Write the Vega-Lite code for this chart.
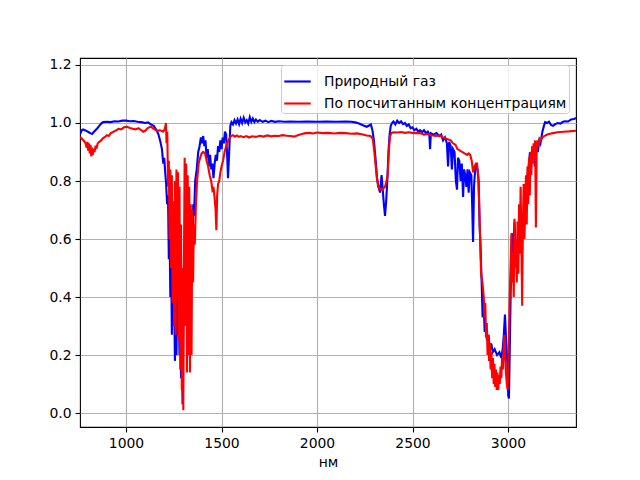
{
  "$schema": "https://vega.github.io/schema/vega-lite/v6.json",
  "width": 496,
  "height": 369,
  "autosize": {"type": "none"},
  "padding": {"left": 80, "top": 58, "right": 64, "bottom": 53},
  "background": "white",
  "config": {
    "font": "DejaVu Sans",
    "view": {"stroke": "black", "strokeWidth": 1.1},
    "axis": {
      "domain": false,
      "grid": true,
      "gridColor": "#b0b0b0",
      "gridWidth": 1.1,
      "tickColor": "black",
      "tickWidth": 1.1,
      "tickSize": 5,
      "labelFontSize": 13.9,
      "labelColor": "black",
      "labelPadding": 4,
      "titleFontSize": 13.9,
      "titleFontWeight": "normal",
      "titleColor": "black"
    },
    "legend": {
      "orient": "top-right",
      "offset": 7,
      "fillColor": "rgba(255,255,255,0.8)",
      "strokeColor": "#cccccc",
      "cornerRadius": 3,
      "padding": 2,
      "labelFontSize": 13.9,
      "labelColor": "black",
      "labelLimit": 400,
      "labelOffset": 12,
      "symbolType": "stroke",
      "symbolSize": 700,
      "symbolStrokeWidth": 2.1,
      "rowPadding": -9
    }
  },
  "datasets": {
    "blue": [
      {"x": 760, "y": 0.962}, {"x": 768, "y": 0.975}, {"x": 775, "y": 0.978}, {"x": 785, "y": 0.975},
      {"x": 795, "y": 0.972}, {"x": 805, "y": 0.968}, {"x": 815, "y": 0.964}, {"x": 822, "y": 0.962},
      {"x": 830, "y": 0.968}, {"x": 840, "y": 0.975}, {"x": 850, "y": 0.982}, {"x": 860, "y": 0.99},
      {"x": 870, "y": 0.998}, {"x": 880, "y": 1.003}, {"x": 900, "y": 1.004}, {"x": 920, "y": 1.003},
      {"x": 940, "y": 1.006}, {"x": 960, "y": 1.005}, {"x": 980, "y": 1.008}, {"x": 1000, "y": 1.008},
      {"x": 1020, "y": 1.006}, {"x": 1040, "y": 1.007}, {"x": 1060, "y": 1.004}, {"x": 1080, "y": 1.003},
      {"x": 1100, "y": 1.0}, {"x": 1115, "y": 1.002}, {"x": 1130, "y": 0.995}, {"x": 1145, "y": 0.99},
      {"x": 1160, "y": 0.975}, {"x": 1170, "y": 0.96}, {"x": 1180, "y": 0.935}, {"x": 1188, "y": 0.91},
      {"x": 1195, "y": 0.86}, {"x": 1200, "y": 0.88}, {"x": 1205, "y": 0.83}, {"x": 1210, "y": 0.79},
      {"x": 1215, "y": 0.72}, {"x": 1220, "y": 0.75}, {"x": 1224, "y": 0.53}, {"x": 1228, "y": 0.62},
      {"x": 1232, "y": 0.4}, {"x": 1236, "y": 0.55}, {"x": 1240, "y": 0.27}, {"x": 1244, "y": 0.48},
      {"x": 1248, "y": 0.3}, {"x": 1252, "y": 0.4}, {"x": 1256, "y": 0.18}, {"x": 1260, "y": 0.33},
      {"x": 1264, "y": 0.2}, {"x": 1268, "y": 0.44}, {"x": 1272, "y": 0.27}, {"x": 1276, "y": 0.38},
      {"x": 1280, "y": 0.2}, {"x": 1284, "y": 0.36}, {"x": 1288, "y": 0.12}, {"x": 1292, "y": 0.25},
      {"x": 1296, "y": 0.03}, {"x": 1300, "y": 0.3}, {"x": 1304, "y": 0.55}, {"x": 1308, "y": 0.45},
      {"x": 1312, "y": 0.7}, {"x": 1316, "y": 0.48}, {"x": 1320, "y": 0.62}, {"x": 1324, "y": 0.32},
      {"x": 1328, "y": 0.55}, {"x": 1332, "y": 0.28}, {"x": 1336, "y": 0.5}, {"x": 1340, "y": 0.4},
      {"x": 1344, "y": 0.65}, {"x": 1348, "y": 0.55}, {"x": 1352, "y": 0.72}, {"x": 1356, "y": 0.68},
      {"x": 1362, "y": 0.8}, {"x": 1370, "y": 0.84}, {"x": 1378, "y": 0.9}, {"x": 1385, "y": 0.92},
      {"x": 1392, "y": 0.95}, {"x": 1398, "y": 0.93}, {"x": 1404, "y": 0.955}, {"x": 1410, "y": 0.92},
      {"x": 1416, "y": 0.94}, {"x": 1422, "y": 0.88}, {"x": 1428, "y": 0.91}, {"x": 1434, "y": 0.85},
      {"x": 1440, "y": 0.89}, {"x": 1446, "y": 0.84}, {"x": 1452, "y": 0.86}, {"x": 1458, "y": 0.81},
      {"x": 1464, "y": 0.86}, {"x": 1470, "y": 0.89}, {"x": 1476, "y": 0.87}, {"x": 1482, "y": 0.92},
      {"x": 1488, "y": 0.9}, {"x": 1494, "y": 0.94}, {"x": 1500, "y": 0.91}, {"x": 1506, "y": 0.95},
      {"x": 1512, "y": 0.93}, {"x": 1518, "y": 0.97}, {"x": 1524, "y": 0.96}, {"x": 1530, "y": 0.88},
      {"x": 1534, "y": 0.81}, {"x": 1540, "y": 0.9}, {"x": 1546, "y": 0.99}, {"x": 1552, "y": 1.003},
      {"x": 1560, "y": 0.995}, {"x": 1568, "y": 1.01}, {"x": 1576, "y": 0.998}, {"x": 1584, "y": 1.012},
      {"x": 1592, "y": 0.996}, {"x": 1600, "y": 1.015}, {"x": 1608, "y": 1.0}, {"x": 1616, "y": 1.018},
      {"x": 1624, "y": 1.002}, {"x": 1632, "y": 1.01}, {"x": 1640, "y": 0.998}, {"x": 1648, "y": 1.02},
      {"x": 1656, "y": 1.004}, {"x": 1664, "y": 1.015}, {"x": 1672, "y": 1.003}, {"x": 1680, "y": 1.012},
      {"x": 1690, "y": 1.004}, {"x": 1700, "y": 1.01}, {"x": 1715, "y": 1.004}, {"x": 1730, "y": 1.008},
      {"x": 1745, "y": 1.003}, {"x": 1760, "y": 1.007}, {"x": 1780, "y": 1.004}, {"x": 1800, "y": 1.006},
      {"x": 1830, "y": 1.004}, {"x": 1860, "y": 1.005}, {"x": 1900, "y": 1.004}, {"x": 1950, "y": 1.005},
      {"x": 2000, "y": 1.004}, {"x": 2050, "y": 1.005}, {"x": 2100, "y": 1.004}, {"x": 2150, "y": 1.005},
      {"x": 2180, "y": 1.004}, {"x": 2200, "y": 1.002}, {"x": 2220, "y": 0.998}, {"x": 2240, "y": 0.992},
      {"x": 2260, "y": 0.987}, {"x": 2275, "y": 0.992}, {"x": 2282, "y": 0.995}, {"x": 2290, "y": 0.975},
      {"x": 2298, "y": 0.94}, {"x": 2306, "y": 0.88}, {"x": 2314, "y": 0.81}, {"x": 2322, "y": 0.78},
      {"x": 2330, "y": 0.76}, {"x": 2338, "y": 0.82}, {"x": 2344, "y": 0.77}, {"x": 2350, "y": 0.72},
      {"x": 2356, "y": 0.68}, {"x": 2362, "y": 0.73}, {"x": 2368, "y": 0.8}, {"x": 2374, "y": 0.9},
      {"x": 2380, "y": 0.96}, {"x": 2386, "y": 0.99}, {"x": 2393, "y": 1.0}, {"x": 2400, "y": 1.005},
      {"x": 2410, "y": 0.995}, {"x": 2420, "y": 1.008}, {"x": 2430, "y": 1.0}, {"x": 2440, "y": 1.006},
      {"x": 2450, "y": 0.996}, {"x": 2460, "y": 1.0}, {"x": 2470, "y": 0.99}, {"x": 2480, "y": 0.995},
      {"x": 2490, "y": 0.982}, {"x": 2500, "y": 0.985}, {"x": 2510, "y": 0.975}, {"x": 2520, "y": 0.98},
      {"x": 2530, "y": 0.97}, {"x": 2540, "y": 0.975}, {"x": 2550, "y": 0.968}, {"x": 2560, "y": 0.975},
      {"x": 2570, "y": 0.965}, {"x": 2580, "y": 0.97}, {"x": 2588, "y": 0.96}, {"x": 2592, "y": 0.91},
      {"x": 2596, "y": 0.965}, {"x": 2610, "y": 0.96}, {"x": 2625, "y": 0.965}, {"x": 2640, "y": 0.955},
      {"x": 2650, "y": 0.96}, {"x": 2660, "y": 0.94}, {"x": 2670, "y": 0.95}, {"x": 2680, "y": 0.93},
      {"x": 2686, "y": 0.85}, {"x": 2692, "y": 0.935}, {"x": 2700, "y": 0.92}, {"x": 2706, "y": 0.84},
      {"x": 2712, "y": 0.91}, {"x": 2720, "y": 0.9}, {"x": 2727, "y": 0.8}, {"x": 2733, "y": 0.77},
      {"x": 2738, "y": 0.88}, {"x": 2745, "y": 0.87}, {"x": 2752, "y": 0.8}, {"x": 2758, "y": 0.86},
      {"x": 2765, "y": 0.745}, {"x": 2770, "y": 0.84}, {"x": 2776, "y": 0.82}, {"x": 2782, "y": 0.78},
      {"x": 2788, "y": 0.84}, {"x": 2794, "y": 0.76}, {"x": 2800, "y": 0.83}, {"x": 2808, "y": 0.82},
      {"x": 2813, "y": 0.7}, {"x": 2817, "y": 0.59}, {"x": 2822, "y": 0.78}, {"x": 2828, "y": 0.84},
      {"x": 2833, "y": 0.85}, {"x": 2840, "y": 0.84}, {"x": 2846, "y": 0.8}, {"x": 2851, "y": 0.65},
      {"x": 2856, "y": 0.58}, {"x": 2862, "y": 0.45}, {"x": 2867, "y": 0.33}, {"x": 2872, "y": 0.38},
      {"x": 2878, "y": 0.28}, {"x": 2885, "y": 0.3}, {"x": 2890, "y": 0.25}, {"x": 2898, "y": 0.27},
      {"x": 2905, "y": 0.22}, {"x": 2912, "y": 0.24}, {"x": 2920, "y": 0.21}, {"x": 2930, "y": 0.22},
      {"x": 2943, "y": 0.2}, {"x": 2955, "y": 0.21}, {"x": 2965, "y": 0.19}, {"x": 2972, "y": 0.22},
      {"x": 2978, "y": 0.27}, {"x": 2984, "y": 0.34}, {"x": 2990, "y": 0.25}, {"x": 2996, "y": 0.18},
      {"x": 3001, "y": 0.06}, {"x": 3005, "y": 0.05}, {"x": 3010, "y": 0.25}, {"x": 3016, "y": 0.5},
      {"x": 3021, "y": 0.62}, {"x": 3028, "y": 0.55}, {"x": 3034, "y": 0.66}, {"x": 3040, "y": 0.58},
      {"x": 3046, "y": 0.5}, {"x": 3052, "y": 0.6}, {"x": 3058, "y": 0.55}, {"x": 3064, "y": 0.66},
      {"x": 3070, "y": 0.6}, {"x": 3079, "y": 0.65}, {"x": 3086, "y": 0.72}, {"x": 3093, "y": 0.78},
      {"x": 3100, "y": 0.8}, {"x": 3108, "y": 0.85}, {"x": 3115, "y": 0.9}, {"x": 3122, "y": 0.86},
      {"x": 3130, "y": 0.9}, {"x": 3136, "y": 0.88}, {"x": 3141, "y": 0.85}, {"x": 3148, "y": 0.92},
      {"x": 3156, "y": 0.9}, {"x": 3164, "y": 0.94}, {"x": 3170, "y": 0.93}, {"x": 3180, "y": 0.97},
      {"x": 3188, "y": 0.99}, {"x": 3194, "y": 1.003}, {"x": 3205, "y": 1.0}, {"x": 3215, "y": 1.004},
      {"x": 3225, "y": 0.993}, {"x": 3236, "y": 0.99}, {"x": 3248, "y": 0.996}, {"x": 3260, "y": 1.0},
      {"x": 3275, "y": 0.998}, {"x": 3288, "y": 1.004}, {"x": 3300, "y": 1.006}, {"x": 3315, "y": 1.005},
      {"x": 3330, "y": 1.012}, {"x": 3345, "y": 1.014}, {"x": 3356, "y": 1.017}
    ],
    "red": [
      {"x": 760, "y": 0.952}, {"x": 770, "y": 0.945}, {"x": 780, "y": 0.938}, {"x": 788, "y": 0.93},
      {"x": 794, "y": 0.915}, {"x": 798, "y": 0.935}, {"x": 802, "y": 0.905}, {"x": 806, "y": 0.93},
      {"x": 810, "y": 0.895}, {"x": 814, "y": 0.925}, {"x": 818, "y": 0.885}, {"x": 822, "y": 0.915},
      {"x": 826, "y": 0.89}, {"x": 830, "y": 0.912}, {"x": 835, "y": 0.9}, {"x": 840, "y": 0.918},
      {"x": 846, "y": 0.915}, {"x": 852, "y": 0.93}, {"x": 860, "y": 0.935}, {"x": 870, "y": 0.94},
      {"x": 880, "y": 0.948}, {"x": 890, "y": 0.952}, {"x": 900, "y": 0.958}, {"x": 910, "y": 0.955},
      {"x": 920, "y": 0.965}, {"x": 930, "y": 0.968}, {"x": 940, "y": 0.972}, {"x": 950, "y": 0.975},
      {"x": 960, "y": 0.98}, {"x": 975, "y": 0.978}, {"x": 990, "y": 0.985}, {"x": 1005, "y": 0.987},
      {"x": 1020, "y": 0.983}, {"x": 1035, "y": 0.98}, {"x": 1050, "y": 0.978}, {"x": 1065, "y": 0.982},
      {"x": 1080, "y": 0.975}, {"x": 1090, "y": 0.97}, {"x": 1100, "y": 0.973}, {"x": 1110, "y": 0.98},
      {"x": 1120, "y": 0.985}, {"x": 1130, "y": 0.987}, {"x": 1140, "y": 0.982}, {"x": 1150, "y": 0.978},
      {"x": 1162, "y": 0.972}, {"x": 1175, "y": 0.975}, {"x": 1185, "y": 0.973}, {"x": 1194, "y": 0.97},
      {"x": 1200, "y": 0.975}, {"x": 1205, "y": 0.985}, {"x": 1209, "y": 1.0}, {"x": 1212, "y": 0.93},
      {"x": 1216, "y": 0.97}, {"x": 1220, "y": 0.78}, {"x": 1224, "y": 0.87}, {"x": 1228, "y": 0.6},
      {"x": 1232, "y": 0.84}, {"x": 1236, "y": 0.5}, {"x": 1240, "y": 0.82}, {"x": 1244, "y": 0.38},
      {"x": 1248, "y": 0.73}, {"x": 1252, "y": 0.3}, {"x": 1256, "y": 0.8}, {"x": 1260, "y": 0.27},
      {"x": 1264, "y": 0.84}, {"x": 1268, "y": 0.4}, {"x": 1272, "y": 0.83}, {"x": 1276, "y": 0.25},
      {"x": 1280, "y": 0.78}, {"x": 1284, "y": 0.15}, {"x": 1288, "y": 0.65}, {"x": 1292, "y": 0.08},
      {"x": 1296, "y": 0.5}, {"x": 1300, "y": 0.01}, {"x": 1304, "y": 0.6}, {"x": 1307, "y": 0.88},
      {"x": 1311, "y": 0.3}, {"x": 1315, "y": 0.86}, {"x": 1319, "y": 0.14}, {"x": 1323, "y": 0.82},
      {"x": 1327, "y": 0.2}, {"x": 1331, "y": 0.78}, {"x": 1335, "y": 0.14}, {"x": 1339, "y": 0.72},
      {"x": 1343, "y": 0.2}, {"x": 1347, "y": 0.7}, {"x": 1351, "y": 0.45}, {"x": 1355, "y": 0.65},
      {"x": 1360, "y": 0.58}, {"x": 1366, "y": 0.72}, {"x": 1372, "y": 0.8}, {"x": 1380, "y": 0.86},
      {"x": 1388, "y": 0.88}, {"x": 1396, "y": 0.895}, {"x": 1404, "y": 0.9}, {"x": 1414, "y": 0.895},
      {"x": 1422, "y": 0.87}, {"x": 1430, "y": 0.85}, {"x": 1438, "y": 0.82}, {"x": 1446, "y": 0.8},
      {"x": 1452, "y": 0.77}, {"x": 1458, "y": 0.78}, {"x": 1464, "y": 0.74}, {"x": 1469, "y": 0.7},
      {"x": 1473, "y": 0.63}, {"x": 1477, "y": 0.75}, {"x": 1482, "y": 0.79}, {"x": 1488, "y": 0.8},
      {"x": 1494, "y": 0.83}, {"x": 1500, "y": 0.85}, {"x": 1508, "y": 0.87}, {"x": 1516, "y": 0.9},
      {"x": 1524, "y": 0.92}, {"x": 1532, "y": 0.935}, {"x": 1540, "y": 0.945}, {"x": 1550, "y": 0.955},
      {"x": 1560, "y": 0.958}, {"x": 1570, "y": 0.953}, {"x": 1580, "y": 0.957}, {"x": 1590, "y": 0.952},
      {"x": 1600, "y": 0.955}, {"x": 1615, "y": 0.951}, {"x": 1630, "y": 0.955}, {"x": 1645, "y": 0.95},
      {"x": 1660, "y": 0.954}, {"x": 1680, "y": 0.952}, {"x": 1700, "y": 0.956}, {"x": 1720, "y": 0.953},
      {"x": 1740, "y": 0.957}, {"x": 1760, "y": 0.954}, {"x": 1780, "y": 0.956}, {"x": 1800, "y": 0.955},
      {"x": 1820, "y": 0.958}, {"x": 1840, "y": 0.956}, {"x": 1860, "y": 0.955}, {"x": 1880, "y": 0.953},
      {"x": 1900, "y": 0.958}, {"x": 1920, "y": 0.962}, {"x": 1940, "y": 0.965}, {"x": 1960, "y": 0.966},
      {"x": 1980, "y": 0.964}, {"x": 2000, "y": 0.967}, {"x": 2030, "y": 0.965}, {"x": 2060, "y": 0.966},
      {"x": 2090, "y": 0.964}, {"x": 2120, "y": 0.966}, {"x": 2150, "y": 0.965}, {"x": 2180, "y": 0.963},
      {"x": 2210, "y": 0.964}, {"x": 2240, "y": 0.96}, {"x": 2260, "y": 0.957}, {"x": 2280, "y": 0.955},
      {"x": 2292, "y": 0.945}, {"x": 2300, "y": 0.9}, {"x": 2306, "y": 0.86}, {"x": 2312, "y": 0.82},
      {"x": 2320, "y": 0.78}, {"x": 2330, "y": 0.772}, {"x": 2340, "y": 0.77}, {"x": 2348, "y": 0.775},
      {"x": 2356, "y": 0.78}, {"x": 2364, "y": 0.8}, {"x": 2370, "y": 0.82}, {"x": 2376, "y": 0.9},
      {"x": 2382, "y": 0.955}, {"x": 2390, "y": 0.965}, {"x": 2400, "y": 0.968}, {"x": 2420, "y": 0.967},
      {"x": 2440, "y": 0.969}, {"x": 2460, "y": 0.966}, {"x": 2480, "y": 0.968}, {"x": 2500, "y": 0.966},
      {"x": 2520, "y": 0.965}, {"x": 2540, "y": 0.965}, {"x": 2560, "y": 0.96}, {"x": 2580, "y": 0.962},
      {"x": 2600, "y": 0.958}, {"x": 2620, "y": 0.955}, {"x": 2644, "y": 0.957}, {"x": 2660, "y": 0.95},
      {"x": 2680, "y": 0.945}, {"x": 2700, "y": 0.94}, {"x": 2712, "y": 0.93}, {"x": 2725, "y": 0.925},
      {"x": 2735, "y": 0.91}, {"x": 2749, "y": 0.905}, {"x": 2760, "y": 0.9}, {"x": 2772, "y": 0.895},
      {"x": 2786, "y": 0.89}, {"x": 2795, "y": 0.895}, {"x": 2802, "y": 0.89}, {"x": 2810, "y": 0.87},
      {"x": 2817, "y": 0.83}, {"x": 2824, "y": 0.85}, {"x": 2832, "y": 0.86}, {"x": 2838, "y": 0.86},
      {"x": 2844, "y": 0.82}, {"x": 2849, "y": 0.73}, {"x": 2854, "y": 0.6}, {"x": 2859, "y": 0.48},
      {"x": 2864, "y": 0.46}, {"x": 2869, "y": 0.43}, {"x": 2873, "y": 0.4}, {"x": 2877, "y": 0.33},
      {"x": 2881, "y": 0.38}, {"x": 2885, "y": 0.26}, {"x": 2889, "y": 0.31}, {"x": 2893, "y": 0.2},
      {"x": 2897, "y": 0.27}, {"x": 2901, "y": 0.18}, {"x": 2905, "y": 0.24}, {"x": 2909, "y": 0.15},
      {"x": 2913, "y": 0.21}, {"x": 2917, "y": 0.12}, {"x": 2921, "y": 0.19}, {"x": 2925, "y": 0.1},
      {"x": 2929, "y": 0.17}, {"x": 2933, "y": 0.09}, {"x": 2937, "y": 0.15}, {"x": 2941, "y": 0.08},
      {"x": 2945, "y": 0.14}, {"x": 2949, "y": 0.08}, {"x": 2953, "y": 0.13}, {"x": 2957, "y": 0.1},
      {"x": 2961, "y": 0.16}, {"x": 2965, "y": 0.12}, {"x": 2969, "y": 0.19}, {"x": 2973, "y": 0.15},
      {"x": 2977, "y": 0.22}, {"x": 2981, "y": 0.27}, {"x": 2985, "y": 0.2}, {"x": 2989, "y": 0.14},
      {"x": 2994, "y": 0.1}, {"x": 2998, "y": 0.08}, {"x": 3003, "y": 0.2}, {"x": 3008, "y": 0.37},
      {"x": 3013, "y": 0.5}, {"x": 3018, "y": 0.62}, {"x": 3022, "y": 0.45}, {"x": 3026, "y": 0.55},
      {"x": 3030, "y": 0.4}, {"x": 3034, "y": 0.67}, {"x": 3038, "y": 0.5}, {"x": 3042, "y": 0.6},
      {"x": 3046, "y": 0.45}, {"x": 3050, "y": 0.66}, {"x": 3054, "y": 0.48}, {"x": 3058, "y": 0.72},
      {"x": 3062, "y": 0.55}, {"x": 3066, "y": 0.78}, {"x": 3070, "y": 0.6}, {"x": 3074, "y": 0.37},
      {"x": 3078, "y": 0.65}, {"x": 3082, "y": 0.79}, {"x": 3086, "y": 0.6}, {"x": 3090, "y": 0.7},
      {"x": 3094, "y": 0.82}, {"x": 3098, "y": 0.65}, {"x": 3102, "y": 0.85}, {"x": 3106, "y": 0.72},
      {"x": 3110, "y": 0.88}, {"x": 3114, "y": 0.75}, {"x": 3118, "y": 0.9}, {"x": 3122, "y": 0.82},
      {"x": 3126, "y": 0.92}, {"x": 3130, "y": 0.86}, {"x": 3134, "y": 0.93}, {"x": 3138, "y": 0.88},
      {"x": 3142, "y": 0.94}, {"x": 3146, "y": 0.64}, {"x": 3150, "y": 0.9}, {"x": 3154, "y": 0.94},
      {"x": 3160, "y": 0.92}, {"x": 3166, "y": 0.945}, {"x": 3172, "y": 0.94}, {"x": 3180, "y": 0.95},
      {"x": 3190, "y": 0.955}, {"x": 3205, "y": 0.96}, {"x": 3220, "y": 0.963}, {"x": 3236, "y": 0.965},
      {"x": 3260, "y": 0.968}, {"x": 3290, "y": 0.97}, {"x": 3320, "y": 0.971}, {"x": 3356, "y": 0.973}
    ]
  },
  "encoding": {
    "x": {
      "field": "x",
      "type": "quantitative",
      "title": "нм",
      "scale": {"domain": [759, 3356], "nice": false, "zero": false},
      "axis": {"values": [1000, 1500, 2000, 2500, 3000], "format": "d", "titlePadding": 6}
    },
    "y": {
      "field": "y",
      "type": "quantitative",
      "title": null,
      "scale": {"domain": [-0.048, 1.224], "nice": false, "zero": false},
      "axis": {"values": [0, 0.2, 0.4, 0.6, 0.8, 1.0, 1.2], "format": ".1f"}
    }
  },
  "layer": [
    {
      "data": {"name": "blue"},
      "mark": {"type": "line", "strokeWidth": 2.1, "clip": true},
      "encoding": {
        "color": {
          "datum": "Природный газ",
          "type": "nominal",
          "title": null,
          "scale": {
            "domain": ["Природный газ", "По посчитанным концентрациям"],
            "range": ["#0000ff", "#ff0000"]
          }
        }
      }
    },
    {
      "data": {"name": "red"},
      "mark": {"type": "line", "strokeWidth": 2.1, "clip": true},
      "encoding": {
        "color": {"datum": "По посчитанным концентрациям", "type": "nominal"}
      }
    }
  ]
}
